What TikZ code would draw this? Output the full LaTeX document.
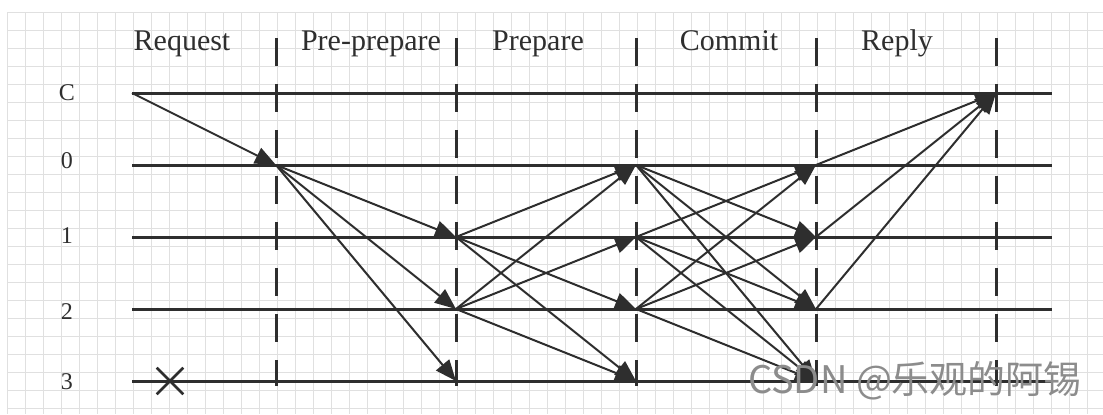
\documentclass[tikz,border=0pt]{standalone}
\usepackage{fontspec}
\setmainfont{Liberation Serif}
\newfontfamily\cjkfont{Noto Sans CJK SC}
\usepackage{xcolor}
\usetikzlibrary{arrows.meta,shapes.misc}

\definecolor{ink}{HTML}{2E2E2E}
\definecolor{paper}{HTML}{E0E0E0}

\begin{document}
\begin{tikzpicture}[
  x=0.5pt, y=-0.5pt,
  phase/.style={font=\fontsize{15}{18}\selectfont, text=ink, inner sep=0pt, anchor=base},
  replica/.style={font=\fontsize{12}{14}\selectfont, text=ink, inner sep=0pt},
  timeline/.style={ink, line width=1.5pt},
  boundary/.style={ink, line width=1.5pt, dash pattern=on 14pt off 9pt},
  msg/.style={ink, line width=1pt, -{Triangle[length=10.5pt, width=8.5pt]}},
  faulty/.style={draw=ink, cross out, line width=1.3pt, minimum size=12pt, inner sep=0pt}
]
  \useasboundingbox (0,0) rectangle (1103,414);
  \fill[white] (0,0) rectangle (1103,414);

  % squared paper
  \foreach \gx in {7,25,...,1103} \draw[paper, line width=0.5pt] (\gx,12) -- (\gx,414);
  \foreach \gy in {12,30,...,414} \draw[paper, line width=0.5pt] (7,\gy) -- (1103,\gy);

  % where each replica's line starts, and where the phases change
  \coordinate (rC) at (132,93);
  \coordinate (r0) at (132,165);
  \coordinate (r1) at (132,237);
  \coordinate (r2) at (132,309);
  \coordinate (r3) at (132,381);
  \coordinate (b1) at (276,38);
  \coordinate (b2) at (456,38);
  \coordinate (b3) at (636,38);
  \coordinate (b4) at (816,38);
  \coordinate (b5) at (996,38);
  \coordinate (tail) at (1052,386);

  % phase names
  \node[phase] (request) at (182,50) {Request};
  \node[phase] (preprep) at (371,50) {Pre-prepare};
  \node[phase] (prepare) at (538,50) {Prepare};
  \node[phase] (commit) at (729,50) {Commit};
  \node[phase] (reply) at (897,50) {Reply};

  % replicas
  \node[replica] (nC) at (67,93) {C};
  \node[replica] (n0) at (67,161) {0};
  \node[replica] (n1) at (67,236) {1};
  \node[replica] (n2) at (67,312) {2};
  \node[replica] (n3) at (67,382) {3};
  \draw[timeline] (rC) -- (rC -| tail);
  \draw[timeline] (r0) -- (r0 -| tail);
  \draw[timeline] (r1) -- (r1 -| tail);
  \draw[timeline] (r2) -- (r2 -| tail);
  \draw[timeline] (r3) -- (r3 -| tail);
  \node[faulty] (down) at (170,381) {};

  % phase boundaries
  \draw[boundary] (b1) -- (b1 |- tail);
  \draw[boundary] (b2) -- (b2 |- tail);
  \draw[boundary] (b3) -- (b3 |- tail);
  \draw[boundary] (b4) -- (b4 |- tail);
  \draw[boundary] (b5) -- (b5 |- tail);

  % request
  \draw[msg] (rC) -- (b1 |- r0);
  % pre-prepare
  \draw[msg] (b1 |- r0) -- (b2 |- r1);
  \draw[msg] (b1 |- r0) -- (b2 |- r2);
  \draw[msg] (b1 |- r0) -- (b2 |- r3);
  % prepare
  \draw[msg] (b2 |- r1) -- (b3 |- r0);
  \draw[msg] (b2 |- r1) -- (b3 |- r2);
  \draw[msg] (b2 |- r1) -- (b3 |- r3);
  \draw[msg] (b2 |- r2) -- (b3 |- r0);
  \draw[msg] (b2 |- r2) -- (b3 |- r1);
  \draw[msg] (b2 |- r2) -- (b3 |- r3);
  % commit
  \draw[msg] (b3 |- r0) -- (b4 |- r1);
  \draw[msg] (b3 |- r0) -- (b4 |- r2);
  \draw[msg] (b3 |- r0) -- (b4 |- r3);
  \draw[msg] (b3 |- r1) -- (b4 |- r0);
  \draw[msg] (b3 |- r1) -- (b4 |- r2);
  \draw[msg] (b3 |- r1) -- (b4 |- r3);
  \draw[msg] (b3 |- r2) -- (b4 |- r0);
  \draw[msg] (b3 |- r2) -- (b4 |- r1);
  \draw[msg] (b3 |- r2) -- (b4 |- r3);
  % reply
  \draw[msg] (b4 |- r0) -- (b5 |- rC);
  \draw[msg] (b4 |- r1) -- (b5 |- rC);
  \draw[msg] (b4 |- r2) -- (b5 |- rC);

  \node[text=black!45, font=\cjkfont\fontsize{19}{21}\selectfont, inner sep=0pt] (mark) at (915,381) {CSDN @乐观的阿锡};
\end{tikzpicture}
\end{document}
